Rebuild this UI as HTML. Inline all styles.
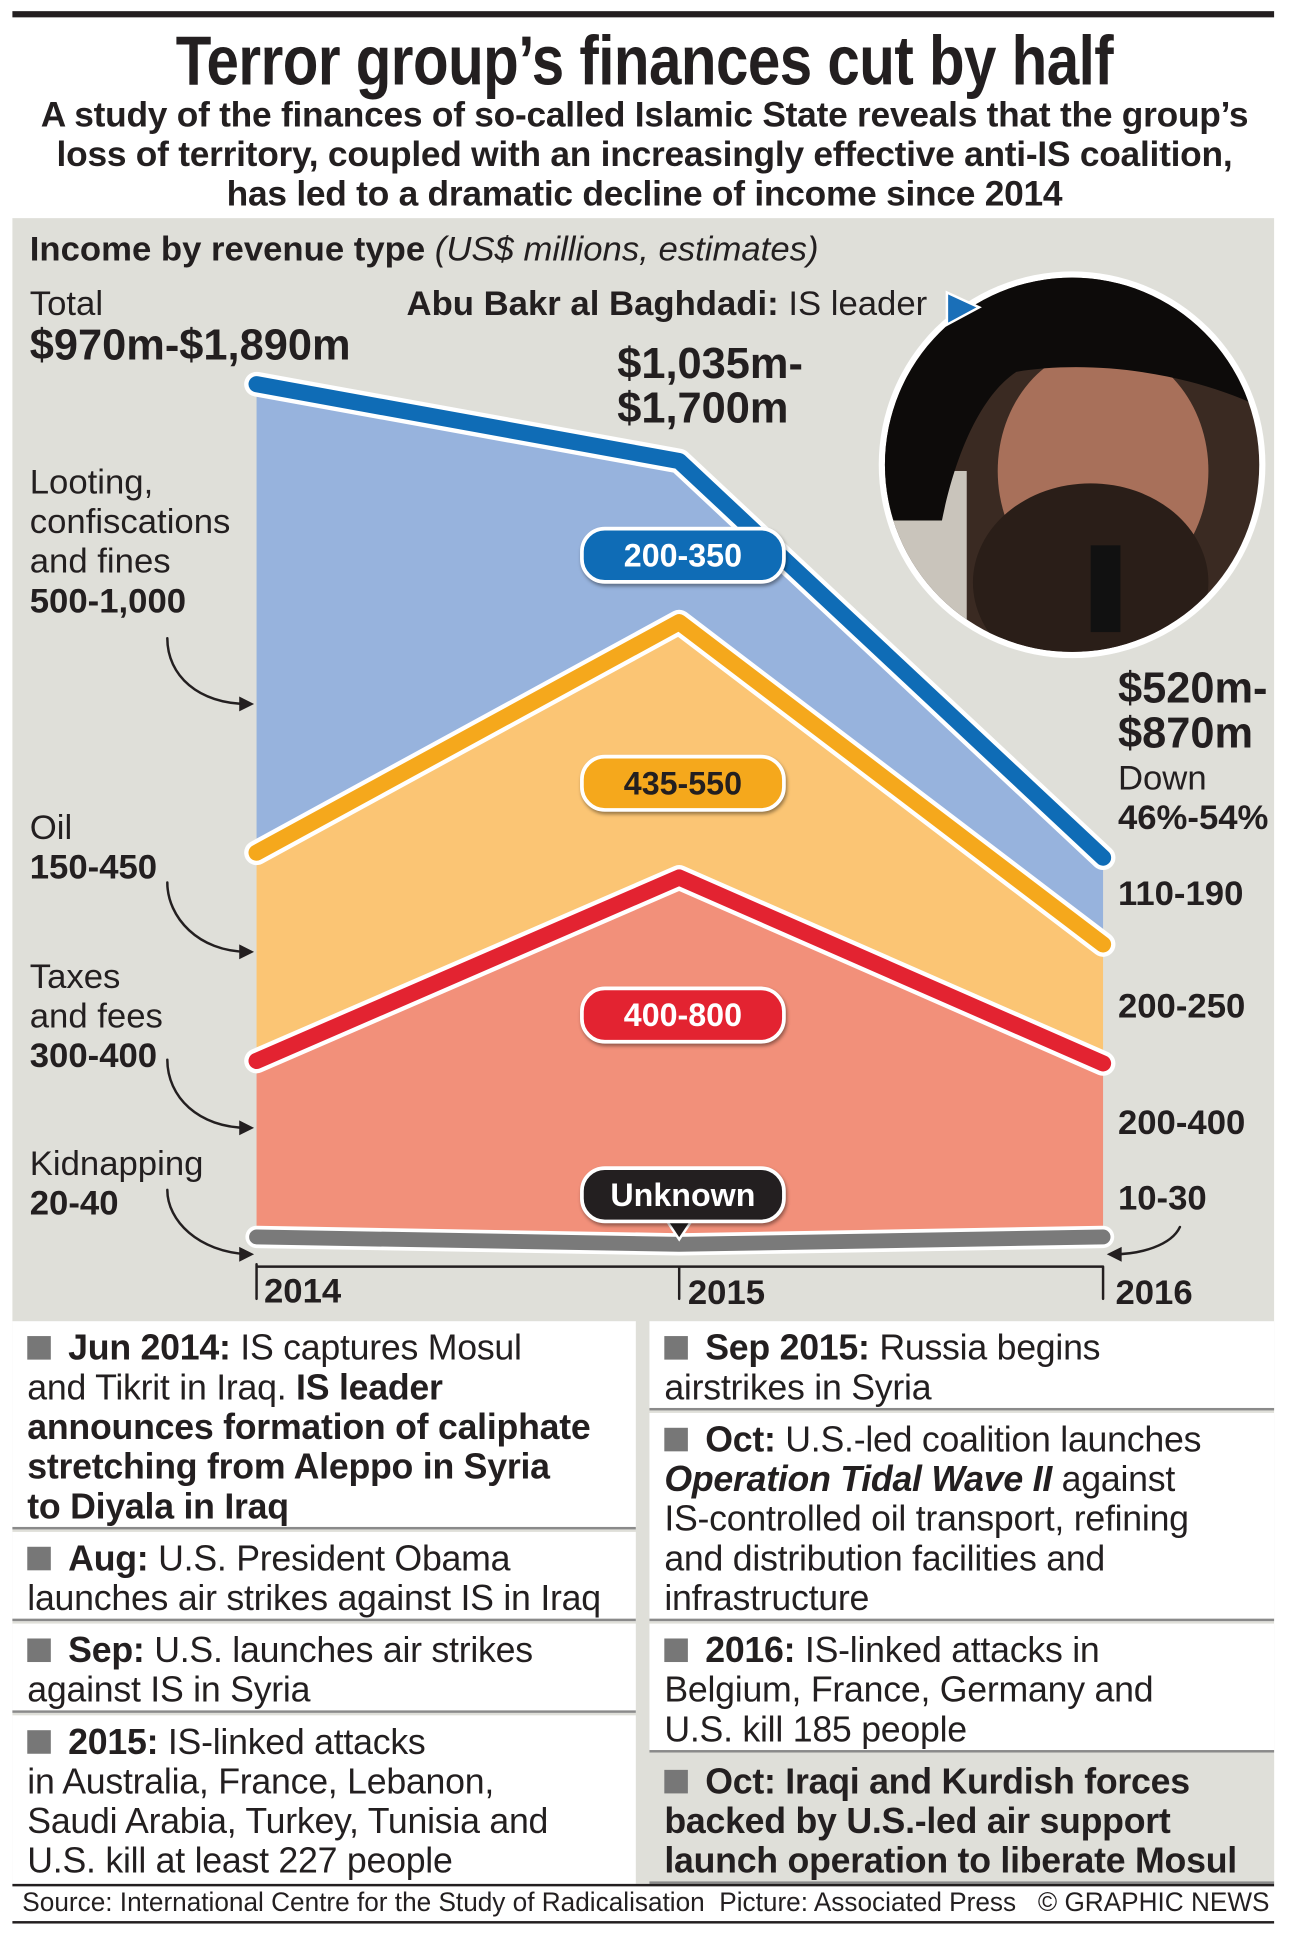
<!DOCTYPE html>
<html><head><meta charset="utf-8"><style>
html,body{margin:0;padding:0;background:#fff;width:1289px;height:1948px;overflow:hidden}
#w{width:1040px;height:1572px;transform:scale(1.2394);transform-origin:0 0;position:relative;font-family:"Liberation Sans",sans-serif;color:#231f20}
.a{position:absolute;white-space:nowrap}
.b{font-weight:bold}
.box{position:absolute;background:#fff;border-bottom:2px solid #8a8a8a;font-size:28.8px;line-height:32px;padding:6px 12px;box-sizing:border-box;white-space:nowrap;letter-spacing:-0.2px}
.sq{display:inline-block;width:19px;height:19px;background:#777;margin-right:14px;vertical-align:0}
.pill{position:absolute;height:40px;border-radius:20px;border:3px solid #fff;color:#fff;font-weight:bold;font-size:26px;line-height:40px;text-align:center;box-shadow:1px 2px 3px rgba(0,0,0,.4)}
.l{font-size:28px;line-height:32px}
</style></head><body><div id="w">
<div class="a" style="left:10px;top:9px;width:1018px;height:5px;background:#231f20"></div>
<div class="a b" style="left:0;width:1040px;top:19px;text-align:center;font-size:56px;line-height:60px;transform:scaleX(0.84);letter-spacing:-0.5px">Terror group’s finances cut by half</div>
<div class="a b" style="left:0;width:1040px;top:77px;text-align:center;font-size:28.5px;line-height:32px;letter-spacing:-0.2px">A study of the finances of so-called Islamic State reveals that the group’s<br>loss of territory, coupled with an increasingly effective anti-IS coalition,<br>has led to a dramatic decline of income since 2014</div>
<div class="a" style="left:10px;top:176px;width:1018px;height:1344px;background:#dfdfd9"></div>
<svg class="a" style="left:0;top:0" width="1040" height="1100">
<polygon points="207,310 548,372 890,692 890,762 548,502 207,688" fill="#97b3dd"/>
<polygon points="207,688 548,502 890,762 890,858 548,708 207,856" fill="#fbc574"/>
<polygon points="207,856 548,708 890,858 890,1000 548,1005 207,1000" fill="#f2907a"/>
<g fill="none" stroke-linecap="round" stroke-linejoin="round">
<polyline points="207,310 548,372 890,692" stroke="#fff" stroke-width="20"/>
<polyline points="207,310 548,372 890,692" stroke="#0f6cb6" stroke-width="13"/>
<polyline points="207,688 548,502 890,762" stroke="#fff" stroke-width="20"/>
<polyline points="207,688 548,502 890,762" stroke="#f5a81c" stroke-width="13"/>
<polyline points="207,856 548,708 890,858" stroke="#fff" stroke-width="20"/>
<polyline points="207,856 548,708 890,858" stroke="#e32331" stroke-width="13"/>
<polyline points="207,998 548,1004 890,998" stroke="#fff" stroke-width="18"/>
<polyline points="207,998 548,1004 890,998" stroke="#7a7a7a" stroke-width="12"/>
<path d="M207,1020 V1048 M207,1022 H890 M548,1022 V1048 M890,1022 V1048" stroke="#231f20" stroke-width="2"/>
<path d="M135,515 C135,545 160,568 200,568 M135,712 C135,740 160,768 200,768 M135,855 C135,885 160,910 200,910 M135,960 C135,985 160,1010 200,1012 M952,990 C945,1005 920,1012 898,1012" stroke="#231f20" stroke-width="2"/>
</g>
<g fill="#231f20"><polygon points="205,568 193,562 193,574"/><polygon points="205,768 193,762 193,774"/><polygon points="205,910 193,904 193,916"/><polygon points="205,1012 193,1006 193,1018"/><polygon points="893,1012 905,1006 905,1018"/></g>
<circle cx="865" cy="375" r="156" fill="#fff"/>
<clipPath id="c"><circle cx="865" cy="375" r="151"/></clipPath>
<g clip-path="url(#c)">
<rect x="700" y="200" width="340" height="340" fill="#3a2a22"/>
<rect x="700" y="380" width="80" height="160" fill="#c9c4bb"/>
<ellipse cx="890" cy="380" rx="85" ry="100" fill="#a8705a"/>
<ellipse cx="880" cy="470" rx="95" ry="80" fill="#2a1e18"/>
<path d="M700,300 C760,210 880,200 1020,260 L1020,330 C960,300 880,290 820,300 C790,320 770,370 760,420 L700,420 Z" fill="#0d0b0a"/>
<rect x="880" y="440" width="24" height="70" fill="#111"/>
</g>
<polygon points="764,236 790,248 764,262" fill="#1a6fb8" stroke="#fff" stroke-width="2"/>
<polygon points="538,985 558,985 548,1000" fill="#231f20" stroke="#fff" stroke-width="2"/>
</svg>
<div class="pill" style="left:468px;top:425px;width:160px;background:#0f6cb6">200-350</div>
<div class="pill" style="left:468px;top:609px;width:160px;background:#f5a81c;color:#231f20">435-550</div>
<div class="pill" style="left:468px;top:796px;width:160px;background:#e32331">400-800</div>
<div class="pill" style="left:468px;top:941px;width:160px;background:#231f20">Unknown</div>
<div class="a" style="font-size:28px;left:24px;top:185px"><b>Income by revenue type</b> <i>(US$ millions, estimates)</i></div>
<div class="a l" style="left:24px;top:229px">Total</div>
<div class="a b" style="font-size:35px;left:24px;top:259px">$970m-$1,890m</div>
<div class="a l" style="left:328px;top:229px"><b>Abu Bakr al Baghdadi:</b> IS leader</div>
<div class="a b" style="font-size:35px;left:498px;top:276px;line-height:36px">$1,035m-<br>$1,700m</div>
<div class="a b" style="font-size:35px;left:902px;top:538px;line-height:36px">$520m-<br>$870m</div>
<div class="a l" style="left:902px;top:612px">Down<br><b>46%-54%</b></div>
<div class="a l" style="left:24px;top:373px">Looting,<br>confiscations<br>and fines<br><b>500-1,000</b></div>
<div class="a l" style="left:24px;top:652px">Oil<br><b>150-450</b></div>
<div class="a l" style="left:24px;top:772px">Taxes<br>and fees<br><b>300-400</b></div>
<div class="a l" style="left:24px;top:923px">Kidnapping<br><b>20-40</b></div>
<div class="a b l" style="left:902px;top:705px">110-190</div>
<div class="a b l" style="left:902px;top:796px">200-250</div>
<div class="a b l" style="left:902px;top:890px">200-400</div>
<div class="a b l" style="left:902px;top:951px">10-30</div>
<div class="a b l" style="left:213px;top:1026px">2014</div>
<div class="a b l" style="left:555px;top:1027px">2015</div>
<div class="a b l" style="left:900px;top:1027px">2016</div>
<div class="box" style="left:10px;top:1066px;width:503px;height:168px"><span class="sq"></span><b>Jun 2014:</b> IS captures Mosul<br>and Tikrit in Iraq. <b>IS leader<br>announces formation of caliphate<br>stretching from Aleppo in Syria<br>to Diyala in Iraq</b></div>
<div class="box" style="left:10px;top:1236px;width:503px;height:72px"><span class="sq"></span><b>Aug:</b> U.S. President Obama<br>launches air strikes against IS in Iraq</div>
<div class="box" style="left:10px;top:1310px;width:503px;height:72px"><span class="sq"></span><b>Sep:</b> U.S. launches air strikes<br>against IS in Syria</div>
<div class="box" style="left:10px;top:1384px;width:503px;height:136px;border:none"><span class="sq"></span><b>2015:</b> IS-linked attacks<br>in Australia, France, Lebanon,<br>Saudi Arabia, Turkey, Tunisia and<br>U.S. kill at least 227 people</div>
<div class="box" style="left:524px;top:1066px;width:504px;height:72px"><span class="sq"></span><b>Sep 2015:</b> Russia begins<br>airstrikes in Syria</div>
<div class="box" style="left:524px;top:1140px;width:504px;height:168px"><span class="sq"></span><b>Oct:</b> U.S.-led coalition launches<br><b><i>Operation Tidal Wave II</i></b> against<br>IS-controlled oil transport, refining<br>and distribution facilities and<br>infrastructure</div>
<div class="box" style="left:524px;top:1310px;width:504px;height:104px"><span class="sq"></span><b>2016:</b> IS-linked attacks in<br>Belgium, France, Germany and<br>U.S. kill 185 people</div>
<div class="box" style="left:524px;top:1416px;width:504px;height:104px;background:#dfdfd9"><b><span class="sq"></span>Oct: Iraqi and Kurdish forces<br>backed by U.S.-led air support<br>launch operation to liberate Mosul</b></div>
<div class="a" style="left:10px;top:1520px;width:1018px;height:2px;background:#231f20"></div>
<div class="a" style="font-size:22px;left:18px;top:1522px;transform:scaleX(0.96);transform-origin:0 0">Source: International Centre for the Study of Radicalisation&nbsp; Picture: Associated Press&nbsp;&nbsp; © GRAPHIC NEWS</div>
<div class="a" style="left:10px;top:1550px;width:1018px;height:2px;background:#231f20"></div>
</div></body></html>
